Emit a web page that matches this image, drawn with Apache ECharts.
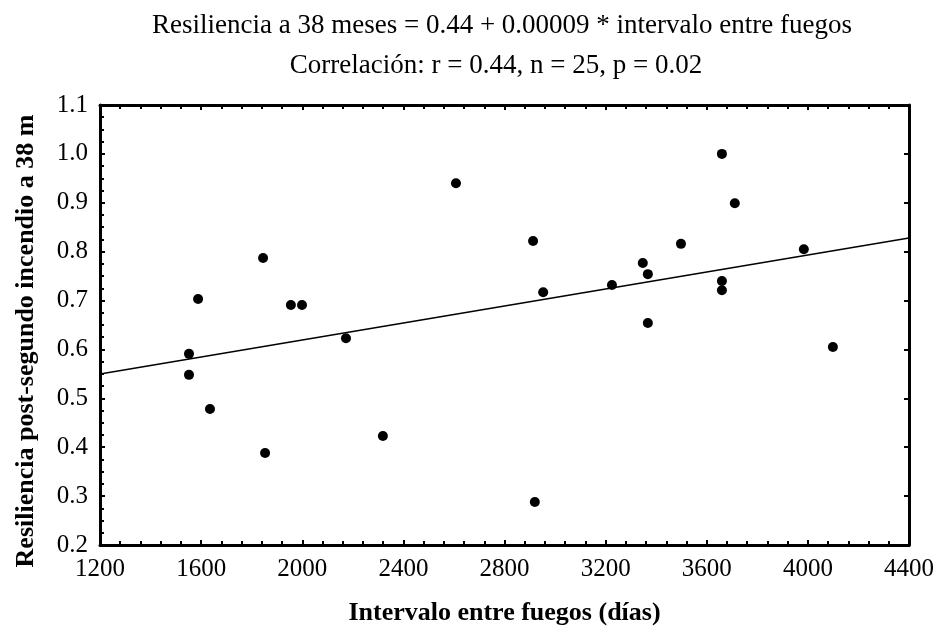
<!DOCTYPE html>
<html>
<head>
<meta charset="utf-8">
<script src="https://cdn.jsdelivr.net/npm/echarts@6/dist/echarts.min.js"></script>
<style>
html,body{margin:0;padding:0;background:#fff;}
#c{width:938px;height:631px;}
</style>
</head>
<body>
<div id="c"></div>
<script>
// Data
const intervalo = [1552, 1552, 1588, 1635, 1845, 1853, 1955, 1999, 2173, 2319, 2608, 2913, 2920, 2953, 3225, 3347, 3367, 3367, 3498, 3660, 3660, 3660, 3711, 3984, 4099];
const resiliencia = [0.591, 0.548, 0.703, 0.478, 0.787, 0.388, 0.691, 0.691, 0.623, 0.423, 0.940, 0.822, 0.288, 0.717, 0.732, 0.777, 0.754, 0.654, 0.816, 1.000, 0.740, 0.721, 0.899, 0.805, 0.605];
const fitX = [1200, 4400];
const fitY = [0.550, 0.828];
const titleLines = ["Resiliencia a 38 meses = 0.44 + 0.00009 * intervalo entre fuegos", "Correlación: r = 0.44, n = 25, p = 0.02"];
const xName = "Intervalo entre fuegos (días)";
const yName = "Resiliencia post-segundo incendio a 38 m";

const points = intervalo.map((x, i) => [x, resiliencia[i]]);
const fitLine = fitX.map((x, i) => [x, fitY[i]]);

const chart = echarts.init(document.getElementById('c'));
const axisLine = {show: true, lineStyle: {color: '#000', width: 3}};
const tick = {show: true, inside: true, length: 5, lineStyle: {color: '#000', width: 2}};
const minor = (n) => ({show: true, splitNumber: n, length: 4, lineStyle: {color: '#000', width: 2}});
const labelFont = {color: '#000', fontFamily: 'Liberation Serif', fontSize: 25};
const titleStyle = {fontFamily: 'Liberation Serif', fontSize: 27, fill: '#000', align: 'center', verticalAlign: 'middle'};

chart.setOption({
  animation: false,
  backgroundColor: '#fff',
  grid: {left: 100, right: 29, top: 105, bottom: 85, containLabel: false},
  xAxis: [{
    type: 'value', min: 1200, max: 4400, interval: 400, position: 'bottom',
    axisLine: axisLine, axisTick: tick, minorTick: minor(5),
    splitLine: {show: false},
    axisLabel: Object.assign({margin: 12, formatter: v => String(v)}, labelFont),
    name: xName, nameLocation: 'middle', nameGap: 55,
    nameTextStyle: {fontFamily: 'Liberation Serif', fontSize: 26, fontWeight: 'bold', color: '#000'}
  }, {
    type: 'value', min: 1200, max: 4400, interval: 400, position: 'top',
    axisLine: axisLine, axisTick: tick, minorTick: minor(5),
    splitLine: {show: false}, axisLabel: {show: false}
  }],
  yAxis: [{
    type: 'value', min: 0.2, max: 1.1, interval: 0.1, position: 'left',
    axisLine: axisLine, axisTick: tick, minorTick: minor(4),
    splitLine: {show: false},
    axisLabel: Object.assign({margin: 12, formatter: v => v.toFixed(1)}, labelFont)
  }, {
    type: 'value', min: 0.2, max: 1.1, interval: 0.1, position: 'right',
    axisLine: axisLine, axisTick: tick,
    splitLine: {show: false}, axisLabel: {show: false}
  }],
  graphic: [{
    type: 'text', x: 502, y: 26,
    style: Object.assign({text: titleLines[0]}, titleStyle)
  }, {
    type: 'text', x: 496, y: 66,
    style: Object.assign({text: titleLines[1]}, titleStyle)
  }, {
    type: 'text', x: 26, y: 341, rotation: Math.PI / 2,
    style: {text: yName, fontFamily: 'Liberation Serif', fontSize: 26, fontWeight: 'bold', fill: '#000', align: 'center', verticalAlign: 'middle'}
  }],
  series: [{
    type: 'scatter', xAxisIndex: 0, yAxisIndex: 0,
    data: points, symbol: 'circle', symbolSize: 10,
    itemStyle: {color: '#000', opacity: 1}
  }, {
    type: 'line', xAxisIndex: 0, yAxisIndex: 0,
    data: fitLine, symbol: 'none',
    lineStyle: {color: '#000', width: 1.5}
  }]
});
</script>
</body>
</html>
